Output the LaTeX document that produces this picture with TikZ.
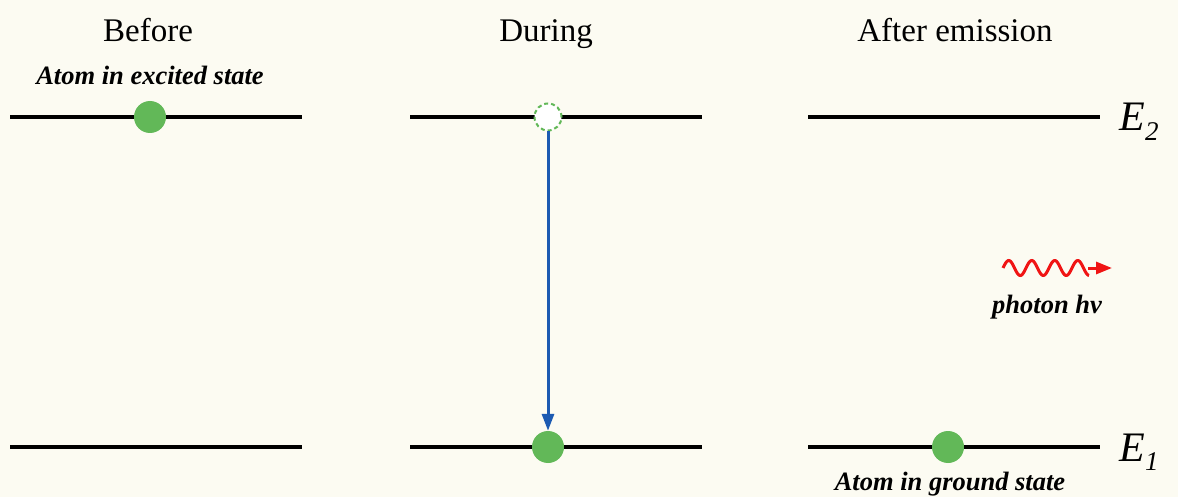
\documentclass[tikz,border=0pt]{standalone}
\usepackage{fontspec}
\setmainfont{Liberation Serif}
\usetikzlibrary{arrows.meta}
\definecolor{bg}{RGB}{252,251,242}
\definecolor{atomgreen}{RGB}{98,184,88}
\definecolor{arrowblue}{RGB}{28,90,178}
\definecolor{photonred}{RGB}{240,20,20}
\tikzset{
  level/.style={line width=4.5pt, black},
  atom/.style={circle, fill=atomgreen, draw=none, minimum size=32pt, inner sep=0pt},
  ghost/.style={circle, fill=white, draw=atomgreen, dashed, line width=2pt, dash pattern=on 4pt off 3pt, minimum size=27pt, inner sep=0pt},
  title/.style={font=\fontsize{33}{38}\selectfont, anchor=base},
  note/.style={font=\fontsize{26.5}{30}\selectfont\bfseries\itshape, anchor=base},
  elabel/.style={font=\fontsize{42}{48}\selectfont\itshape, anchor=base west},
}
\begin{document}
\begin{tikzpicture}[x=1pt,y=-1pt]
\fill[bg] (0,0) rectangle (1178,497);
\useasboundingbox (0,0) rectangle (1178,497);
% titles
\node[title] (t1) at (148,42) {Before};
\node[title] (t2) at (546,42) {During};
\node[title] (t3) at (955,42) {After emission};
% level endpoints
\coordinate (a2l) at (10,117); \coordinate (a2r) at (302,117);
\coordinate (a1l) at (10,447); \coordinate (a1r) at (302,447);
\coordinate (b2l) at (410,117); \coordinate (b2r) at (702,117);
\coordinate (b1l) at (410,447); \coordinate (b1r) at (702,447);
\coordinate (c2l) at (808,117); \coordinate (c2r) at (1100,117);
\coordinate (c1l) at (808,447); \coordinate (c1r) at (1100,447);
\draw[level] (a2l) -- (a2r);
\draw[level] (a1l) -- (a1r);
\draw[level] (b2l) -- (b2r);
\draw[level] (b1l) -- (b1r);
\draw[level] (c2l) -- (c2r);
\draw[level] (c1l) -- (c1r);
% atoms
\node[atom] (atomA) at (150,117) {};
\node[ghost] (ghostB) at (548,117) {};
\node[atom] (atomB) at (548,447) {};
\node[atom] (atomC) at (948,447) {};
% transition arrow
\draw[arrowblue, line width=3pt, -{Triangle[length=17pt,width=12pt]}] (ghostB.south) -- (atomB.north);
% labels
\node[note] (exc) at (150,85) {Atom in excited state};
\node[note] (gnd) at (950,490) {Atom in ground state};
\node[elabel] (E2) at (1116,131) {E\textsubscript{\fontsize{27}{30}\selectfont 2}};
\node[elabel] (E1) at (1116,461) {E\textsubscript{\fontsize{27}{30}\selectfont\itshape 1}};
% photon
\coordinate (ps) at (1003,268);
\coordinate (pe) at (1088,268);
\coordinate (pt) at (1112,268);
\draw[photonred, line width=3pt] plot[domain=0:86, samples=120, smooth] ({1003+\x},{268-7.5*sin(\x*15.652)});
\draw[photonred, line width=3pt, -{Triangle[length=16pt,width=12pt]}] (pe) -- (pt);
\node[note] (ph) at (1047,313) {photon hν};
\end{tikzpicture}
\end{document}
